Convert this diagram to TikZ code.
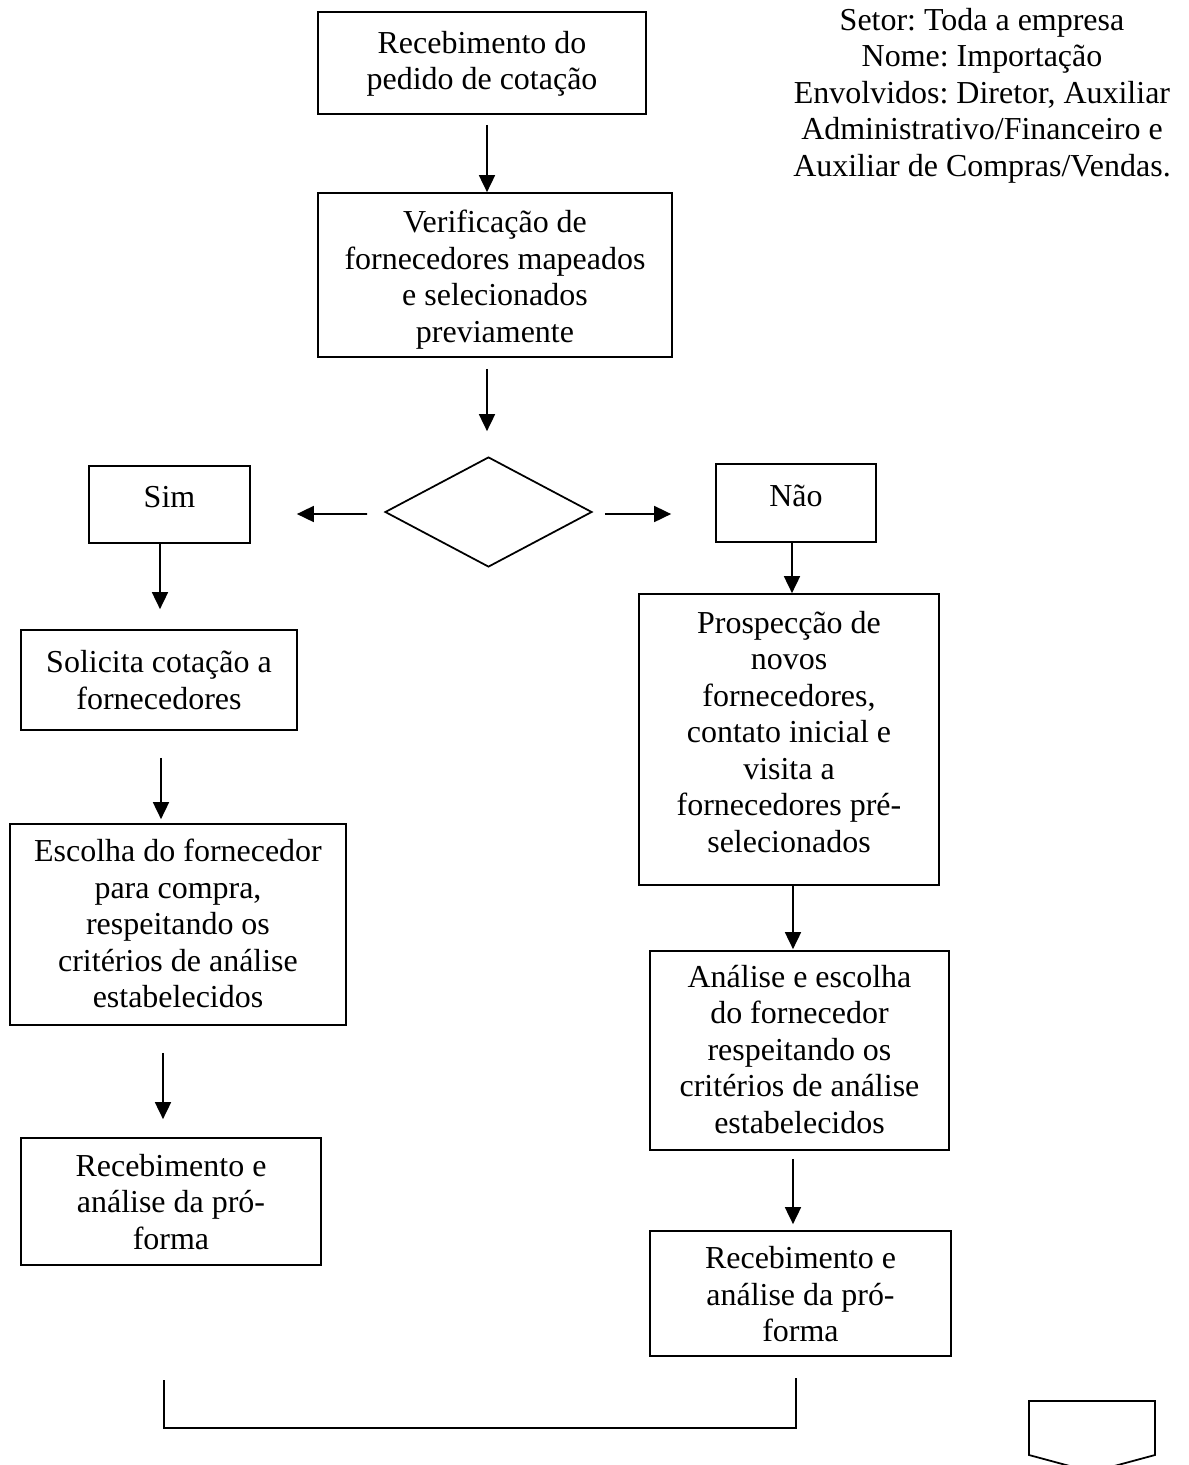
\documentclass[tikz,border=0pt]{standalone}
\usepackage{fontspec}
\setmainfont{Liberation Serif}
\usetikzlibrary{arrows.meta,calc,shapes.geometric}
\frenchspacing
\newcommand{\shifttext}[2]{\raisebox{#1}[\height][\depth]{\begin{tabular}{@{}c@{}}#2\end{tabular}}}
\begin{document}
\begin{tikzpicture}[x=0.02cm,y=-0.02cm,
  every node/.style={font=\fontsize{18.2}{20.8}\selectfont\frenchspacing, align=center, inner sep=0pt},
  boxnode/.style={draw, line width=1pt, rectangle},
  arr/.style={line width=1pt, -{Triangle[length=0.34cm,width=0.32cm]}},
  plain/.style={line width=1pt}]
\path[use as bounding box] (0,0) rectangle (1188,1465);
\clip (0,0) rectangle (1188,1465);

\node[boxnode, minimum width=6.56cm, minimum height=2.04cm] (b1) at (482,63) {\shifttext{-0.02cm}{Recebimento do\\pedido de cotação}};
\node[boxnode, minimum width=7.08cm, minimum height=3.28cm] (b2) at (495,275) {\shifttext{-0.1cm}{Verificação de\\fornecedores mapeados\\e selecionados\\previamente}};
\node[draw, line width=1pt, diamond, minimum width=4.14cm, minimum height=2.2cm] (dia) at (488.5,512) {};
\node[boxnode, minimum width=3.22cm, minimum height=1.54cm] (sim) at (169.5,504.5) {\shifttext{0.08cm}{Sim}};
\node[boxnode, minimum width=3.2cm, minimum height=1.56cm] (nao) at (796,503) {\shifttext{0.08cm}{Não}};
\node[boxnode, minimum width=5.52cm, minimum height=2.0cm] (sol) at (159,680) {Solicita cotação a\\fornecedores};
\node[boxnode, minimum width=6.72cm, minimum height=4.02cm] (esc) at (178,924.5) {\shifttext{-0.06cm}{Escolha do fornecedor\\para compra,\\respeitando os\\critérios de análise\\estabelecidos}};
\node[boxnode, minimum width=6.0cm, minimum height=2.54cm] (recl) at (171,1201.5) {\shifttext{-0.08cm}{Recebimento e\\análise da pró-\\forma}};
\node[boxnode, minimum width=6.0cm, minimum height=5.82cm] (prosp) at (789,739.5) {\shifttext{0.08cm}{Prospecção de\\novos\\fornecedores,\\contato inicial e\\visita a\\fornecedores pré-\\selecionados}};
\node[boxnode, minimum width=5.98cm, minimum height=3.98cm] (an) at (799.5,1050.5) {\shifttext{-0.05cm}{Análise e escolha\\do fornecedor\\respeitando os\\critérios de análise\\estabelecidos}};
\node[boxnode, minimum width=6.02cm, minimum height=2.5cm] (recr) at (800.5,1293.5) {\shifttext{-0.09cm}{Recebimento e\\análise da pró-\\forma}};

\node (hdr) at (982,95.5) {Setor: Toda a empresa\\Nome: Importação\\Envolvidos: Diretor, Auxiliar\\Administrativo/Financeiro e\\Auxiliar de Compras/Vendas.};

% arrows
\draw[arr] ($(b1.south)+(5,10)$) -- ($(b2.north)+(-8,0)$);
\draw[arr] ($(b2.south)+(-8,11)$) -- ($(dia.north)+(-1.5,-25)$);
\draw[arr] ($(dia.west)+(-17,2)$) -- ($(sim.east)+(46,9.5)$);
\draw[arr] ($(dia.east)+(12,2)$) -- ($(nao.west)+(-44,11)$);
\draw[arr] ($(sim.south)+(-9.5,0)$) -- ($(sol.north)+(1,-20)$);
\draw[arr] ($(sol.south)+(2,27)$) -- ($(esc.north)+(-17,-4)$);
\draw[arr] ($(esc.south)+(-15,27)$) -- ($(recl.north)+(-8,-18)$);
\draw[arr] ($(nao.south)+(-4,0)$) -- ($(prosp.north)+(3,0)$);
\draw[arr] ($(prosp.south)+(4,0)$) -- ($(an.north)+(-6.5,-1)$);
\draw[arr] ($(an.south)+(-6.5,8)$) -- ($(recr.north)+(-7.5,-6)$);

% bottom bracket
\coordinate (bl1) at (164,1380);
\coordinate (bl2) at (164,1428);
\coordinate (br2) at (796,1428);
\coordinate (br1) at (796,1378);
\draw[plain] (bl1) -- (bl2) -- (br2) -- (br1);

% off-page connector
\draw[plain] (1029,1401) -- (1155,1401) -- (1155,1455) -- (1092,1472) -- (1029,1455) -- cycle;
\end{tikzpicture}
\end{document}
